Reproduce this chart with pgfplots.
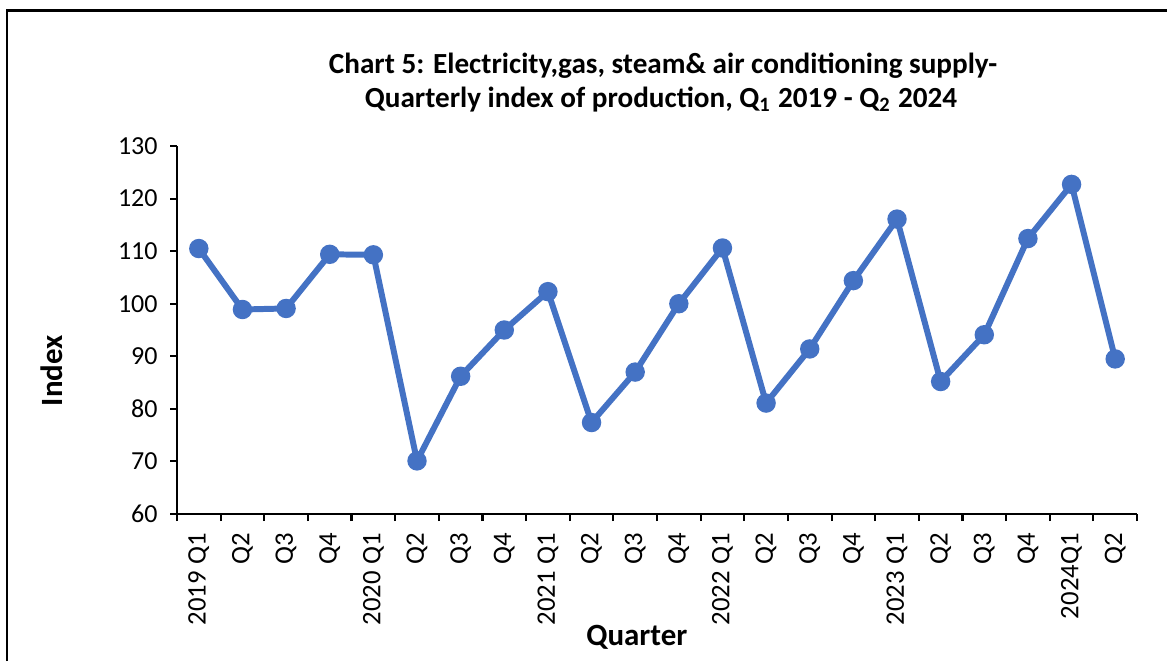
\documentclass[border=0pt]{standalone}
\usepackage{fontspec}
\setmainfont{Carlito}
\usepackage{pgfplots}
\pgfplotsset{compat=1.18}
\definecolor{xlblue}{HTML}{4472C4}
\begin{document}
\begin{tikzpicture}
\useasboundingbox (0,0) rectangle (11.67cm,6.61cm);
\draw[line width=0.85pt] (0.07cm,0) -- (0.07cm,6.50cm) -- (11.67cm,6.50cm);
\node[anchor=base,font=\fontsize{8.3}{9}\selectfont\bfseries] at (6.63cm,5.87cm) {Chart 5: Electricity,gas, steam\& air conditioning supply-};
\node[anchor=base,font=\fontsize{8.3}{9}\selectfont\bfseries] at (6.61cm,5.53cm) {Quarterly index of production, Q\textsubscript{1} 2019 - Q\textsubscript{2} 2024};
\begin{axis}[
  at={(1.77cm,1.47cm)}, anchor=south west,
  scale only axis, width=9.60cm, height=3.68cm,
  xmin=-0.5, xmax=21.5, ymin=60, ymax=130,
  ytick={60,70,...,130},
  axis x line*=bottom, axis y line*=left,
  axis line style={line width=0.6pt, -},
  xtick={0,...,21},
  xticklabels={2019 Q1,Q2,Q3,Q4,2020 Q1,Q2,Q3,Q4,2021 Q1,Q2,Q3,Q4,2022 Q1,Q2,Q3,Q4,2023 Q1,Q2,Q3,Q4,2024Q1,Q2},
  minor xtick={-0.5,0.5,...,21.5},
  major x tick style={draw=none},
  minor x tick style={line width=0.6pt, black},
  y tick style={line width=0.6pt, black},
  tick align=outside,
  major tick length=0.7mm, minor tick length=0.7mm,
  xticklabel style={rotate=90, anchor=east, font=\fontsize{7.6}{9}\selectfont},
  yticklabel style={font=\fontsize{7.4}{9}\selectfont},
  /pgf/number format/assume math mode=true,
  xlabel={Quarter}, ylabel={Index},
  xlabel style={at={(axis description cs:0.479,-0.356)}, anchor=base, font=\fontsize{8.8}{10}\selectfont\bfseries},
  ylabel style={at={(axis description cs:-0.130,0.389)}, anchor=center, font=\fontsize{8.8}{10}\selectfont\bfseries},
  clip=false,
]
\addplot[color=xlblue, line width=1.7pt, mark=*, mark size=1.9pt, mark options={fill=xlblue, draw=xlblue}] coordinates {
(0,110.5) (1,98.9) (2,99.1) (3,109.4) (4,109.3) (5,70.1) (6,86.2) (7,95.0)
(8,102.3) (9,77.4) (10,87.0) (11,100.0) (12,110.6) (13,81.1) (14,91.4) (15,104.4)
(16,116.1) (17,85.2) (18,94.1) (19,112.4) (20,122.7) (21,89.5)
};
\end{axis}
\end{tikzpicture}
\end{document}
